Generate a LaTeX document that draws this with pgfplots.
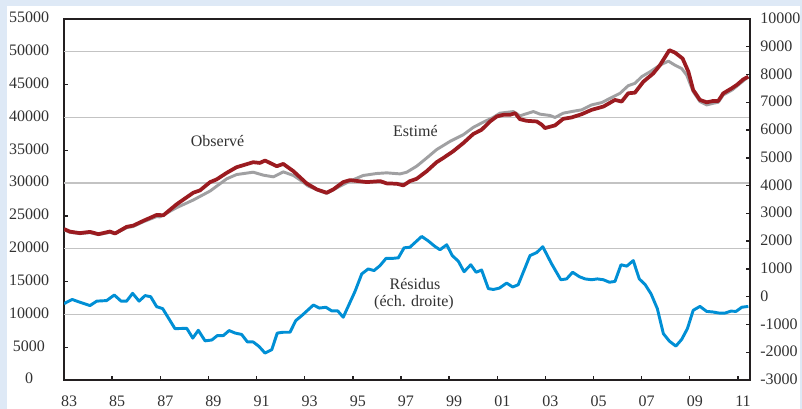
\documentclass[border=0pt]{standalone}
\usepackage{pgfplots}
\pgfplotsset{compat=1.18}
\usepackage{fontspec}
\setmainfont{Liberation Serif}
\definecolor{bgblue}{RGB}{222,233,246}
\definecolor{obsred}{RGB}{155,27,32}
\definecolor{estgray}{RGB}{160,160,162}
\definecolor{resblue}{RGB}{0,143,213}
\definecolor{axisdark}{RGB}{35,31,32}
\definecolor{gridgray}{RGB}{195,195,195}
\definecolor{txt}{RGB}{50,50,50}
\begin{document}
\begin{tikzpicture}
\useasboundingbox (0,0) rectangle (601.5pt,306.75pt);
\fill[bgblue] (0,0) rectangle (601.5pt,306.75pt);
\fill[white] (5.25pt,0) rectangle (600pt,302.25pt);
\pgfplotsset{
  every axis/.append style={
    at={(48pt,21.75pt)}, anchor=south west, width=514.5pt, height=270.75pt, scale only axis,
    xmin=1983, xmax=2011.5,
    font=\fontsize{12}{14}\selectfont,
    /pgf/number format/assume math mode=true,
    /pgf/number format/1000 sep={},
    scaled y ticks=false,
    tick align=inside,
    tick style={axisdark, line width=1pt},
    major tick length=3pt,
    axis line style={axisdark, line width=1.5pt},
    tick label style={txt},
  }
}
\begin{axis}[
  ymin=0, ymax=55000,
  ytick={0,5000,...,55000},
  xtick={1983,1985,...,2011},
  xticklabels={83,85,87,89,91,93,95,97,99,01,03,05,07,09,11},
  xtick pos=left, ytick pos=left,
  yticklabel style={anchor=center, inner sep=0pt, xshift=-26.25pt, yshift=1pt},
  xticklabel style={anchor=north, inner sep=0pt, yshift=-12pt, xshift=3.75pt},
  extra y ticks={10000,20000,30000,40000,50000},
  extra y tick labels={},
  extra y tick style={grid=major, major grid style={gridgray, line width=0.9pt}, major tick length=0pt},
]
% Estimated (grey)
\addplot[estgray, line width=2.2pt, line join=round] coordinates {
(1983.00,22900)(1983.25,22500)(1983.66,22300)(1984.08,22450)(1984.43,22150)(1984.91,22500)
(1985.12,22300)(1985.60,23200)(1985.88,23400)(1986.29,24100)(1986.85,24900)(1986.98,24850)
(1987.68,26260)(1988.37,27420)(1989.07,28790)(1989.76,30650)(1990.17,31300)(1990.86,31660)
(1991.28,31210)(1991.70,30950)(1992.11,31710)(1992.53,31160)(1992.80,30500)(1993.15,29540)
(1993.64,28790)(1993.91,28430)(1994.47,29540)(1994.88,30300)(1995.43,31160)(1995.99,31460)
(1996.41,31560)(1996.96,31400)(1997.24,31660)(1997.65,32570)(1998.07,33830)(1998.48,35100)
(1999.04,36360)(1999.59,37370)(2000.00,38480)(2000.42,39290)(2000.83,40000)(2001.11,40650)
(2001.67,40900)(2001.94,40250)(2002.50,40900)(2002.78,40500)(2003.19,40300)(2003.40,40000)
(2003.74,40650)(2004.09,40900)(2004.51,41160)(2004.92,41910)(2005.34,42270)(2005.75,43030)
(2006.10,43680)(2006.44,44840)(2006.72,45200)(2007.00,46210)(2007.35,46970)(2007.76,47970)
(2008.11,48580)(2008.38,47970)(2008.66,47460)(2008.87,46450)(2009.14,43940)(2009.42,42420)
(2009.70,41910)(2009.98,42170)(2010.18,42310)(2010.39,43430)(2010.76,44190)(2011.18,45450)
(2011.43,46210)
};
% Observed (red)
\addplot[obsred, line width=2.8pt, line join=round] coordinates {
(1983.00,23000)(1983.25,22600)(1983.66,22380)(1984.08,22570)(1984.43,22220)(1984.91,22620)
(1985.12,22320)(1985.60,23330)(1985.88,23530)(1986.29,24240)(1986.85,25150)(1987.13,25100)
(1987.68,26770)(1988.37,28530)(1988.65,28890)(1989.07,30150)(1989.34,30560)(1989.76,31560)
(1990.17,32420)(1990.86,33180)(1991.14,33070)(1991.35,33440)(1991.84,32570)(1992.11,32920)
(1992.53,31815)(1992.80,30900)(1993.08,29950)(1993.50,29040)(1993.91,28530)(1994.19,29040)
(1994.60,30150)(1994.88,30450)(1995.58,30150)(1996.13,30300)(1996.41,29950)(1996.82,29900)
(1997.10,29650)(1997.37,30300)(1997.65,30650)(1998.07,31815)(1998.48,33180)(1998.76,33830)
(1999.17,34850)(1999.59,36100)(2000.00,37470)(2000.35,38130)(2000.70,39390)(2000.98,40150)
(2001.25,40400)(2001.53,40400)(2001.74,40650)(2001.94,39740)(2002.22,39490)(2002.64,39390)
(2002.85,38890)(2002.98,38380)(2003.40,38790)(2003.74,39790)(2004.09,40000)(2004.51,40500)
(2004.92,41160)(2005.41,41660)(2005.89,42670)(2006.17,42420)(2006.44,43680)(2006.72,43780)
(2007.07,45450)(2007.48,46700)(2007.76,47970)(2008.15,50250)(2008.38,49890)(2008.70,48980)
(2008.94,46970)(2009.14,44190)(2009.42,42670)(2009.70,42310)(2009.98,42520)(2010.18,42520)
(2010.39,43680)(2010.74,44440)(2010.95,44950)(2011.22,45800)(2011.43,46210)
};
\node[txt, inner sep=0pt] at (axis cs:1989.38,36420) {Observé};
\node[txt, inner sep=0pt] at (axis cs:1997.60,37950) {Estimé};
\node[txt, inner sep=0pt] at (axis cs:1997.58,14630) {Résidus};
\node[txt, inner sep=0pt] at (axis cs:1997.54,11730) {(éch. droite)};
\end{axis}
\begin{axis}[
  ymin=-3000, ymax=10000,
  ytick={-3000,-2000,...,10000},
  axis x line=none, axis y line*=right,
  ytick pos=right,
  yticklabel style={anchor=west, inner sep=0pt, xshift=7.5pt, yshift=0.5pt},
]
\addplot[resblue, line width=2.2pt, line join=round] coordinates {
(1983.00,-250)(1983.34,-100)(1983.66,-200)(1984.08,-320)(1984.36,-160)(1984.77,-140)
(1985.09,60)(1985.37,-160)(1985.60,-160)(1985.85,120)(1986.12,-160)(1986.37,40)
(1986.60,0)(1986.85,-360)(1987.10,-430)(1987.61,-1150)(1988.10,-1140)(1988.35,-1490)
(1988.58,-1210)(1988.86,-1590)(1989.14,-1560)(1989.37,-1400)(1989.62,-1400)(1989.86,-1220)
(1990.11,-1310)(1990.38,-1360)(1990.62,-1630)(1990.86,-1630)(1991.10,-1790)(1991.35,-2030)
(1991.63,-1910)(1991.86,-1310)(1992.11,-1280)(1992.39,-1280)(1992.63,-860)(1992.88,-680)
(1993.36,-300)(1993.61,-410)(1993.88,-380)(1994.12,-510)(1994.37,-510)(1994.60,-740)
(1995.09,190)(1995.37,820)(1995.64,1000)(1995.88,940)(1996.13,1120)(1996.38,1380)
(1996.66,1380)(1996.89,1400)(1997.13,1760)(1997.37,1780)(1997.86,2170)(1998.13,2010)
(1998.41,1810)(1998.62,1690)(1998.90,1870)(1999.13,1480)(1999.38,1280)(1999.62,900)
(1999.90,1150)(2000.12,880)(2000.35,960)(2000.63,290)(2000.84,260)(2001.09,310)
(2001.39,490)(2001.64,350)(2001.87,430)(2002.36,1480)(2002.64,1590)(2002.89,1800)
(2003.26,1180)(2003.64,610)(2003.88,640)(2004.13,880)(2004.41,720)(2004.65,640)
(2004.92,610)(2005.16,640)(2005.41,610)(2005.66,520)(2005.89,550)(2006.14,1150)
(2006.38,1100)(2006.65,1300)(2006.90,640)(2007.14,440)(2007.39,100)(2007.65,-430)
(2007.90,-1330)(2008.15,-1600)(2008.42,-1780)(2008.66,-1540)(2008.90,-1150)(2009.14,-490)
(2009.42,-350)(2009.70,-530)(2009.95,-550)(2010.22,-590)(2010.46,-590)(2010.71,-520)
(2010.92,-530)(2011.16,-380)(2011.43,-350)
};
\end{axis}
\end{tikzpicture}
\end{document}
